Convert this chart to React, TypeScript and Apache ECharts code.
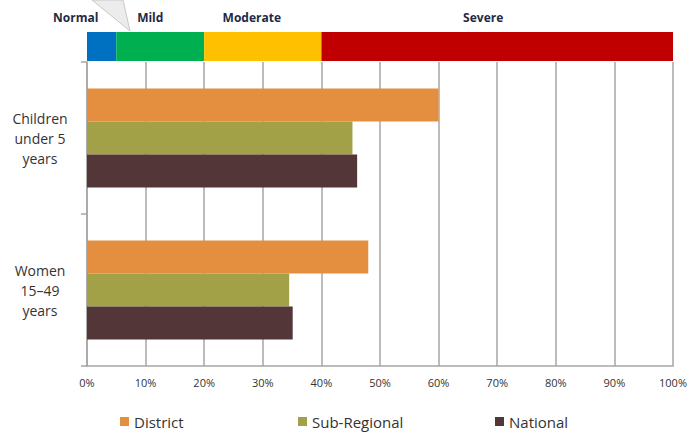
import React, { useEffect, useRef } from "react";
import * as echarts from "echarts";

const categories = ["Children\nunder 5\nyears", "Women\n15–49\nyears"];
const seriesNames = ["District", "Sub-Regional", "National"];
const district = [60, 48];
const subRegional = [45.3, 34.5];
const national = [46.1, 35.1];
const bandNames = ["Normal", "Mild", "Moderate", "Severe"];
const bandWidths = [5, 15, 20, 60];
const xTicks = [0, 10, 20, 30, 40, 50, 60, 70, 80, 90, 100];

const seriesColors = ["#E48F3F", "#A2A148", "#523638"];
const bandColors = ["#0070C0", "#00B050", "#FFC000", "#C00000"];
const bandLabelShift = [-26, -10, -11, -14];

const FONT = "'Open Sans', sans-serif";

export default function App() {
  const ref = useRef<HTMLDivElement>(null);
  useEffect(() => {
    if (!ref.current) return;
    const chart = echarts.init(ref.current, undefined, { renderer: "svg" });
    const values = [district, subRegional, national];
    const gridLine = "#A6A6A6";
    const option: any = {
      animation: false,
      textStyle: { fontFamily: FONT },
      grid: [
        { left: 87, top: 62, width: 586, height: 304 },
        { left: 87, top: 32, width: 586, height: 29 },
      ],
      xAxis: [
        {
          type: "value",
          gridIndex: 0,
          min: xTicks[0],
          max: xTicks[xTicks.length - 1],
          interval: 10,
          axisLine: { show: true, lineStyle: { color: gridLine, width: 1.5 } },
          axisTick: { show: false },
          splitLine: { show: true, lineStyle: { color: gridLine, width: 1.5 } },
          axisLabel: {
            formatter: "{value}%",
            fontSize: 11,
            color: "#333",
            margin: 11,
            fontFamily: FONT,
          },
        },
        {
          type: "value",
          gridIndex: 1,
          min: 0,
          max: 100,
          show: false,
        },
      ],
      yAxis: [
        {
          type: "category",
          gridIndex: 0,
          data: categories,
          inverse: true,
          axisLine: { show: true, lineStyle: { color: gridLine, width: 1.5 } },
          axisTick: { show: true, length: 6, lineStyle: { color: gridLine, width: 1.5 } },
          axisLabel: {
            fontSize: 14,
            lineHeight: 20,
            color: "#333",
            align: "center",
            margin: 47,
            fontFamily: FONT,
          },
        },
        {
          type: "category",
          gridIndex: 1,
          data: ["band"],
          show: false,
        },
      ],
      legend: seriesNames.map((n, i) => ({
        data: [n],
        left: [115, 293, 490][i],
        top: 409,
        itemWidth: 9,
        itemHeight: 9,
        icon: "rect",
        itemGap: 0,
        textStyle: { fontSize: 15, color: "#333", fontFamily: FONT, padding: [0, 0, 0, 0] },
      })),
      series: [
        ...seriesNames.map((n, i) => ({
          name: n,
          type: "bar",
          xAxisIndex: 0,
          yAxisIndex: 0,
          data: values[i],
          barGap: "0%",
          barCategoryGap: "35%",
          itemStyle: { color: seriesColors[i] },
        })),
        ...bandNames.map((n, i) => ({
          name: n,
          type: "bar",
          xAxisIndex: 1,
          yAxisIndex: 1,
          stack: "band",
          barWidth: "100%",
          data: [bandWidths[i]],
          itemStyle: { color: bandColors[i] },
          label: {
            show: true,
            position: "top",
            distance: 9,
            offset: [bandLabelShift[i], 0],
            formatter: n,
            fontSize: 12,
            fontWeight: "bold",
            color: "#1F2A44",
            fontFamily: FONT,
          },
        })),
      ],
      graphic: [
        {
          type: "polygon",
          shape: { points: [[92, 0], [123, 0], [130, 31]] },
          style: { fill: "#ECECEC", stroke: "#C8C8C8", lineWidth: 1 },
          z: 10,
        },
      ],
    };
    chart.setOption(option);
    return () => chart.dispose();
  }, []);
  return (
    <div
      ref={ref}
      style={{ position: "fixed", left: 0, top: 0, width: 691, height: 432, background: "#fff" }}
    />
  );
}
